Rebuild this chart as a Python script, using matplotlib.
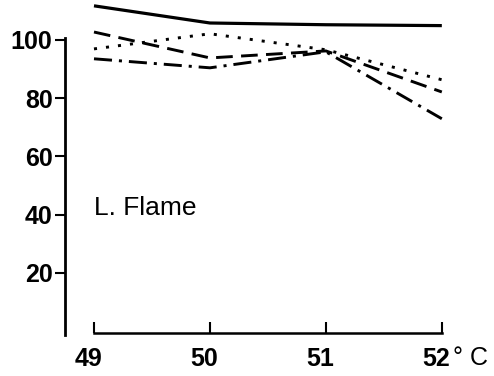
import matplotlib
matplotlib.use("Agg")
import matplotlib.pyplot as plt
from matplotlib.transforms import ScaledTranslation

plt.rcParams['font.family'] = ['Liberation Sans', 'DejaVu Sans']
plt.rcParams['lines.scale_dashes'] = False

# temperature (°C) and relative values for the four curves
temps = [49, 50, 51, 52]
solid_vals = [111.7, 105.8, 105.2, 104.9]
dotted_vals = [96.9, 102.1, 96.6, 86.3]
dashed_vals = [102.7, 93.8, 96.2, 82.1]
dashdot_vals = [93.5, 90.4, 95.9, 72.9]

y_ticks = [20, 40, 60, 80, 100]
x_tick_labels = ['49', '50', '51', '52']

fig = plt.figure(figsize=(4.94, 3.76), dpi=100)
ax = fig.add_axes([65 / 494, 41 / 376, 429 / 494, 335 / 376])

ax.plot(temps, solid_vals, color='black', lw=2.3, solid_capstyle='butt')
ax.plot(temps, dotted_vals, color='black', lw=2.1, linestyle=(0, (2.2, 6.5)))
ax.plot(temps, dashed_vals, color='black', lw=2.1, linestyle=(0, (12, 6)))
ax.plot(temps, dashdot_vals, color='black', lw=2.1, linestyle=(0, (13, 5, 2.2, 5)))

ax.set_xlim(48.75, 52.45)
ax.set_ylim(-1.4, 113.7)

for side in ['top', 'right']:
    ax.spines[side].set_visible(False)
ax.spines['left'].set_bounds(-1.4, 100.7)
ax.spines['left'].set_linewidth(2.0)
ax.spines['bottom'].set_position(('data', -0.7))
ax.spines['bottom'].set_bounds(49, 52)
ax.spines['bottom'].set_linewidth(1.8)

ax.set_yticks(y_ticks)
ax.set_yticklabels([str(v) for v in y_ticks])
ax.set_xticks(temps)
ax.set_xticklabels(x_tick_labels)

ax.tick_params(axis='y', direction='out', length=7, width=1.5, pad=2,
               labelsize=18)
ax.tick_params(axis='x', direction='in', length=8, width=1.5, pad=10,
               labelsize=18)
shift = ScaledTranslation(-4 / 72, 0, fig.dpi_scale_trans)
for lab in ax.get_xticklabels():
    lab.set_fontweight('bold')
    lab.set_transform(lab.get_transform() + shift)
for lab in ax.get_yticklabels():
    lab.set_fontweight('bold')

ax.text(52.1, -9.3, '° C', fontsize=18, ha='left', va='center', clip_on=False)
ax.text(49.0, 42.3, 'L. Flame', fontsize=19, ha='left', va='center')

fig.savefig('out.png', dpi=100)
